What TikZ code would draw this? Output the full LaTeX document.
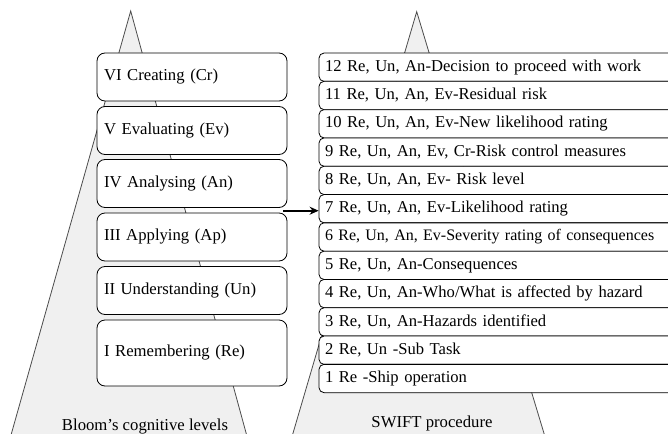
\documentclass[tikz,border=0pt]{standalone}
\usepackage{fontspec}
\setmainfont{Liberation Serif}
\usepackage{tikz}
\usetikzlibrary{positioning,arrows.meta}

\begin{document}
\begin{tikzpicture}[x=1pt, y=-1pt,
  pyr/.style={draw=black!70, line width=0.8pt, fill=black!6},
  level/.style={draw=black, line width=0.8pt, fill=white, rounded corners=8pt, minimum width=190pt, minimum height=48pt, text width=176pt, inner xsep=7pt, align=left, font=\fontsize{16.7}{20}\selectfont},
  stage/.style={draw=black, line width=0.8pt, fill=white, rounded corners=5pt, minimum width=380pt, minimum height=28.3pt, text width=368pt, inner xsep=6pt, align=left, font=\fontsize{16.6}{20}\selectfont},
  pyrtitle/.style={font=\fontsize{16.7}{20}\selectfont, anchor=base}]
\clip (0,0) rectangle (668,433);
\fill[white] (0,0) rectangle (668,433);
\draw[pyr] (9.6,440) -- (130.7,11) -- (248,440);
\draw[pyr] (291,440) -- (416.7,11.7) -- (546,440);
\node[level] (cr) at (192,77)    {VI Creating (Cr)};
\node[level] (ev) at (192,130.5) {V Evaluating (Ev)};
\node[level] (an) at (192,183.5) {IV Analysing (An)};
\node[level] (ap) at (192,237)   {III Applying (Ap)};
\node[level] (un) at (192,290.5) {II Understanding (Un)};
\node[level, minimum height=66pt] (re) at (192,353) {I Remembering (Re)};
\node[stage] (r12) at (509,67.2)  {12 Re, Un, An-Decision to proceed with work};
\node[stage] (r11) at (509,95.5)  {11 Re, Un, An, Ev-Residual risk};
\node[stage] (r10) at (509,123.8) {10 Re, Un, An, Ev-New likelihood rating};
\node[stage] (r9)  at (509,152.1) {9 Re, Un, An, Ev, Cr-Risk control measures};
\node[stage] (r8)  at (509,180.4) {8 Re, Un, An, Ev- Risk level};
\node[stage] (r7)  at (509,208.7) {7 Re, Un, An, Ev-Likelihood rating};
\node[stage, font=\fontsize{16}{20}\selectfont] (r6) at (509,237) {6 Re, Un, An, Ev-Severity rating of consequences};
\node[stage] (r5)  at (509,265.3) {5 Re, Un, An-Consequences};
\node[stage] (r4)  at (509,293.6) {4 Re, Un, An-Who/What is affected by hazard};
\node[stage] (r3)  at (509,321.9) {3 Re, Un, An-Hazards identified};
\node[stage] (r2)  at (509,350.2) {2 Re, Un -Sub Task};
\node[stage] (r1)  at (509,378.5) {1 Re -Ship operation};
\node[pyrtitle] (bloom) at (145,430) {Bloom’s cognitive levels};
\node[pyrtitle] (swift) at (432,427) {SWIFT procedure};
\coordinate (gap) at (283,210.7);
\draw[-{Stealth[length=9pt,width=8pt]}, line width=2pt] (gap) -- (gap -| r7.west);
\end{tikzpicture}
\end{document}
